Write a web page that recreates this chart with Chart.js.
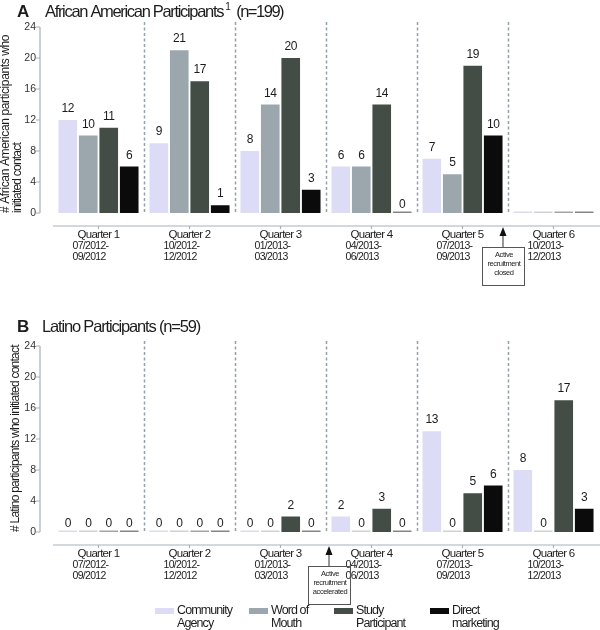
<!DOCTYPE html>
<html>
<head>
<meta charset="utf-8">
<script src="https://cdn.jsdelivr.net/npm/chart.js@4.4.0/dist/chart.umd.min.js"></script>
<style>
  body { margin: 0; background: #fff; }
  .wrap { position: absolute; left: 0; width: 600px; }
  #boxA { top: 0; height: 300px; }
  #boxB { top: 318px; height: 312px; }
</style>
</head>
<body>
<div class="wrap" id="boxA"><canvas id="chartA"></canvas></div>
<div class="wrap" id="boxB"><canvas id="chartB"></canvas></div>
<script>
// categories
const quarters = ['Quarter 1', 'Quarter 2', 'Quarter 3', 'Quarter 4', 'Quarter 5', 'Quarter 6'];
const quarterDates = [
  ['07/2012-', '09/2012'], ['10/2012-', '12/2012'], ['01/2013-', '03/2013'],
  ['04/2013-', '06/2013'], ['07/2013-', '09/2013'], ['10/2013-', '12/2013']
];
const sources = ['Community Agency', 'Word of Mouth', 'Study Participant', 'Direct marketing'];
const sourceColors = ['#dcdcf7', '#9ba7ad', '#434d46', '#0b0b0b'];
const yMax = 24;
const yStep = 4;

// A: African American participants
const aaCommunity = [12, 9, 8, 6, 7, 0];
const aaWordOfMouth = [10, 21, 14, 6, 5, 0];
const aaStudy = [11, 17, 20, 14, 19, 0];
const aaDirect = [6, 1, 3, 0, 10, 0];
const aaLabeled = [true, true, true, true, true, false];

// B: Latino participants
const laCommunity = [0, 0, 0, 2, 13, 8];
const laWordOfMouth = [0, 0, 0, 0, 0, 0];
const laStudy = [0, 0, 2, 3, 5, 17];
const laDirect = [0, 0, 0, 0, 6, 3];
const laLabeled = [true, true, true, true, true, true];

const FONT = '"Liberation Sans", Arial, sans-serif';
const INK = '#1c1c1c';
const AXIS = '#a6b1b7';

// draw text, optionally squeezed to a given width; returns drawn width
function drawText(ctx, s, x, y, size, opts) {
  opts = opts || {};
  ctx.save();
  ctx.font = (opts.bold ? 'bold ' : '') + size + 'px ' + FONT;
  ctx.fillStyle = opts.color || INK;
  ctx.textAlign = opts.align || 'left';
  ctx.textBaseline = opts.baseline || 'middle';
  ctx.letterSpacing = '0px';
  if (opts.width) {
    const w = ctx.measureText(s).width;
    ctx.letterSpacing = ((opts.width - w) / s.length).toFixed(2) + 'px';
  } else if (opts.spacing != null) {
    ctx.letterSpacing = opts.spacing + 'px';
  }
  const drawn = ctx.measureText(s).width;
  if (opts.rotate) {
    ctx.translate(x, y);
    ctx.rotate(opts.rotate);
    x = 0; y = 0;
  }
  ctx.fillText(s, x, y);
  ctx.restore();
  return drawn;
}

function dividerX(xs, j) {
  return (xs.getPixelForValue(j) + xs.getPixelForValue(j + 1)) / 2;
}

// dashed quarter separators, detached axes, labels, titles, notes
const decor = {
  id: 'decor',
  beforeDatasetsDraw(chart, args, o) {
    const { ctx, chartArea: a, scales: { x: xs } } = chart;
    ctx.save();
    ctx.strokeStyle = '#94a1a9';
    ctx.lineWidth = 1.5;
    ctx.setLineDash([3, 2.5]);
    for (let j = 0; j < quarters.length - 1; j++) {
      const x = Math.round(dividerX(xs, j)) + 0.5;
      ctx.beginPath();
      ctx.moveTo(x, a.top - 5);
      ctx.lineTo(x, a.bottom);
      ctx.stroke();
    }
    ctx.restore();
  },
  afterDraw(chart, args, o) {
    const { ctx, chartArea: a, scales: { x: xs, y: ys } } = chart;

    // y axis line, offset to the left of the plot
    ctx.save();
    ctx.strokeStyle = AXIS;
    ctx.lineWidth = 1.2;
    const yx = a.left - 13;
    ctx.beginPath();
    ctx.moveTo(yx, ys.getPixelForValue(yMax));
    ctx.lineTo(yx, ys.getPixelForValue(0));
    for (let v = 0; v <= yMax; v += yStep) {
      const py = ys.getPixelForValue(v);
      ctx.moveTo(yx - 4, py);
      ctx.lineTo(yx, py);
    }
    ctx.stroke();

    // x axis line, offset below the plot
    const xy = a.bottom + 13;
    ctx.beginPath();
    ctx.moveTo(a.left, xy);
    ctx.lineTo(chart.width, xy);
    quarters.forEach((q, j) => {
      const px = xs.getPixelForValue(j);
      ctx.moveTo(px, xy);
      ctx.lineTo(px, xy + 3);
    });
    ctx.stroke();
    ctx.restore();

    // quarter labels
    quarters.forEach((q, j) => {
      const px = xs.getPixelForValue(j);
      drawText(ctx, q, px, a.bottom + 22, 11.5, { align: 'center', spacing: -0.75 });
      drawText(ctx, quarterDates[j][0], px - 26, a.bottom + 33, 10.5, { spacing: -0.7 });
      drawText(ctx, quarterDates[j][1], px - 26, a.bottom + 44, 10.5, { spacing: -0.7 });
    });

    // bar values and zero markers
    chart.data.datasets.forEach((ds, i) => {
      chart.getDatasetMeta(i).data.forEach((bar, j) => {
        const v = ds.data[j];
        if (v === 0) {
          ctx.save();
          ctx.globalAlpha = 0.5;
          ctx.fillStyle = i === 0 ? '#b8b8d8' : ds.backgroundColor;
          ctx.fillRect(bar.x - bar.width / 2, bar.base - 1.5, bar.width, 1.5);
          ctx.restore();
        }
        if (o.labeled[j]) {
          drawText(ctx, String(v), bar.x, bar.y - (v > 0 ? 8 : 5), 12,
            { align: 'center', baseline: 'alphabetic', spacing: -0.4 });
        }
      });
    });

    // panel title
    drawText(ctx, o.letter, 17, o.titleY, 17, { bold: true, width: o.letterW });
    const tw = drawText(ctx, o.title, o.titleX, o.titleY, 16.5, { width: o.titleW });
    if (o.sup) {
      drawText(ctx, o.sup, o.titleX + tw + 2, o.titleY - 5, 10);
      drawText(ctx, o.count, o.titleX + tw + 13, o.titleY, 16.5, { width: 47 });
    }

    // y axis title, reading upward from the zero line
    o.yTitle.forEach(line => {
      drawText(ctx, line.text, line.x, a.bottom, 12,
        { rotate: -Math.PI / 2, width: line.w });
    });

    // note with arrow pointing at the x axis
    const n = o.note;
    const nx = dividerX(xs, n.after) + n.dx;
    ctx.save();
    ctx.strokeStyle = '#333';
    ctx.fillStyle = '#111';
    ctx.lineWidth = 1;
    ctx.beginPath();
    ctx.moveTo(nx, a.bottom + 22);
    ctx.lineTo(nx, a.bottom + 34);
    ctx.stroke();
    ctx.beginPath();
    ctx.moveTo(nx, a.bottom + 14);
    ctx.lineTo(nx - 3.5, a.bottom + 23);
    ctx.lineTo(nx + 3.5, a.bottom + 23);
    ctx.closePath();
    ctx.fill();
    ctx.strokeStyle = '#555';
    ctx.strokeRect(Math.round(nx - 21) + 0.5, a.bottom + 34.5, 42, 38);
    ctx.restore();
    n.lines.forEach((t, k) => {
      drawText(ctx, t, nx + 1, a.bottom + 42 + k * 9, 7.5, { align: 'center', spacing: -0.4 });
    });

    // legend (bottom panel only)
    if (o.legend) {
      const lx = [155, 249, 334, 430];
      const ly = chart.height - 20;
      sources.forEach((s, i) => {
        ctx.fillStyle = sourceColors[i];
        ctx.fillRect(lx[i], ly - 2, 19, 6);
        const cut = s.lastIndexOf(' ');
        drawText(ctx, s.slice(0, cut), lx[i] + 22, ly + 1, 12.5, { spacing: -0.9 });
        drawText(ctx, s.slice(cut + 1), lx[i] + 22, ly + 14, 12.5, { spacing: -0.9 });
      });
    }
  }
};

function makeChart(id, series, topPad, xHeight, opts) {
  return new Chart(document.getElementById(id), {
    type: 'bar',
    data: {
      labels: quarters,
      datasets: series.map((d, i) => ({
        label: sources[i],
        data: d,
        backgroundColor: sourceColors[i],
        borderWidth: 0,
        categoryPercentage: 0.9,
        barPercentage: 0.91
      }))
    },
    options: {
      responsive: true,
      maintainAspectRatio: false,
      animation: false,
      events: [],
      layout: { padding: { top: topPad, right: 1, left: 0, bottom: 0 } },
      plugins: { legend: { display: false }, tooltip: { enabled: false }, decor: opts },
      scales: {
        x: {
          grid: { display: false, drawTicks: false },
          border: { display: false },
          ticks: { display: false },
          afterFit: s => { s.height = xHeight; }
        },
        y: {
          min: 0, max: yMax,
          grid: { display: false, drawTicks: false },
          border: { display: false },
          ticks: { stepSize: yStep, padding: 17, color: '#333', font: { family: FONT, size: 10.5 } },
          afterFit: s => { s.width = 53; }
        }
      }
    },
    plugins: [decor]
  });
}

makeChart('chartA', [aaCommunity, aaWordOfMouth, aaStudy, aaDirect], 27, 87, {
  labeled: aaLabeled,
  letter: 'A', letterW: 13, title: 'African American Participants', titleX: 45, titleW: 178, titleY: 12,
  sup: '1', count: '(n=199)',
  yTitle: [
    { text: '# African American participants who', x: 6, w: 178 },
    { text: 'initiated contact', x: 18, w: 70 }
  ],
  note: { after: 4, dx: -5, lines: ['Active', 'recruitment', 'closed'] },
  legend: false
});

makeChart('chartB', [laCommunity, laWordOfMouth, laStudy, laDirect], 28, 98, {
  labeled: laLabeled,
  letter: 'B', letterW: 11, title: 'Latino Participants (n=59)', titleX: 42, titleW: 158, titleY: 9,
  yTitle: [
    { text: '# Latino participants who initiated contact', x: 16, w: 187 }
  ],
  note: { after: 2, dx: 3, lines: ['Active', 'recruitment', 'accelerated'] },
  legend: true
});
</script>
</body>
</html>
